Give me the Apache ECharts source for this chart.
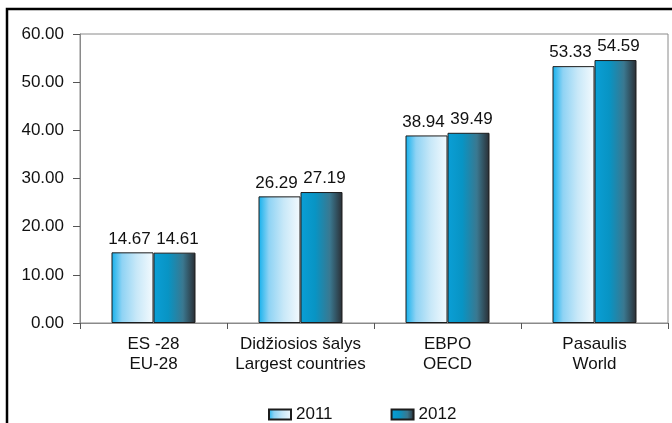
<!DOCTYPE html>
<html>
<head>
<meta charset="utf-8">
<script src="https://cdn.jsdelivr.net/npm/echarts@6/dist/echarts.min.js"></script>
<style>
  html, body { margin: 0; padding: 0; background: #fff; }
  #chart { width: 672px; height: 423px; }
</style>
</head>
<body>
<div id="chart"></div>
<script>
// kategorijos / categories
const categories = ["ES -28\nEU-28", "Didžiosios šalys\nLargest countries", "EBPO\nOECD", "Pasaulis\nWorld"]
const seriesNames = ["2011", "2012"]
const values2011 = [14.67, 26.29, 38.94, 53.33]
const values2012 = [14.61, 27.19, 39.49, 54.59]

const font = "Liberation Sans, Arial, sans-serif"

// horizontal gradients like the original bars
const grad2011 = new echarts.graphic.LinearGradient(0, 0, 1, 0, [
  { offset: 0, color: "#12b0ec" },
  { offset: 0.25, color: "#8fd3f4" },
  { offset: 0.6, color: "#c8e8f8" },
  { offset: 1, color: "#f4fafe" }
])
const grad2012 = new echarts.graphic.LinearGradient(0, 0, 1, 0, [
  { offset: 0, color: "#0a9fd6" },
  { offset: 0.35, color: "#0894c4" },
  { offset: 0.7, color: "#3a7890" },
  { offset: 1, color: "#2a2d33" }
])

const makeLabel = dx => ({
  show: true,
  position: "top",
  distance: 5,
  offset: [dx, 0],
  fontFamily: font,
  fontSize: 17,
  color: "#111",
  formatter: p => p.value.toFixed(2)
})

const option = {
  animation: false,
  backgroundColor: "#fff",
  textStyle: { fontFamily: font },
  grid: {
    left: 80,
    right: 4,
    top: 34,
    bottom: 100,
    show: true,
    borderColor: "#8a8a8a",
    borderWidth: 1
  },
  legend: {
    data: seriesNames,
    icon: "rect",
    left: 263,
    top: 401,
    itemGap: 58,
    itemWidth: 22,
    itemHeight: 10,
    textStyle: { fontFamily: font, fontSize: 17, color: "#111" }
  },
  xAxis: {
    type: "category",
    data: categories,
    axisLine: { lineStyle: { color: "#8a8a8a", width: 1 } },
    axisTick: { show: true, length: 6, lineStyle: { color: "#555" } },
    axisLabel: {
      fontFamily: font,
      fontSize: 17,
      color: "#111",
      lineHeight: 20,
      margin: 11,
      interval: 0
    }
  },
  yAxis: {
    type: "value",
    min: 0,
    max: 60,
    interval: 10,
    axisLine: { show: true, lineStyle: { color: "#8a8a8a" } },
    axisTick: { show: true, length: 7, lineStyle: { color: "#555" } },
    splitLine: { show: false },
    axisLabel: {
      fontFamily: font,
      fontSize: 17,
      color: "#111",
      margin: 16,
      formatter: v => v.toFixed(2)
    }
  },
  series: [
    {
      name: seriesNames[0],
      type: "bar",
      data: values2011,
      barWidth: 42,
      barGap: "0%",
      itemStyle: { color: grad2011, borderColor: "#1c1c1c", borderWidth: 1 },
      label: makeLabel(-3)
    },
    {
      name: seriesNames[1],
      type: "bar",
      data: values2012,
      barWidth: 42,
      barGap: "0%",
      itemStyle: { color: grad2012, borderColor: "#1c1c1c", borderWidth: 1 },
      label: makeLabel(3)
    }
  ],
  graphic: [
    {
      // outer black frame (top and left visible)
      type: "rect",
      silent: true,
      shape: { x: 7, y: 9, width: 720, height: 460 },
      style: { fill: null, stroke: "#000", lineWidth: 2.5 }
    }
  ]
}

const chart = echarts.init(document.getElementById("chart"))
chart.setOption(option)
</script>
</body>
</html>
